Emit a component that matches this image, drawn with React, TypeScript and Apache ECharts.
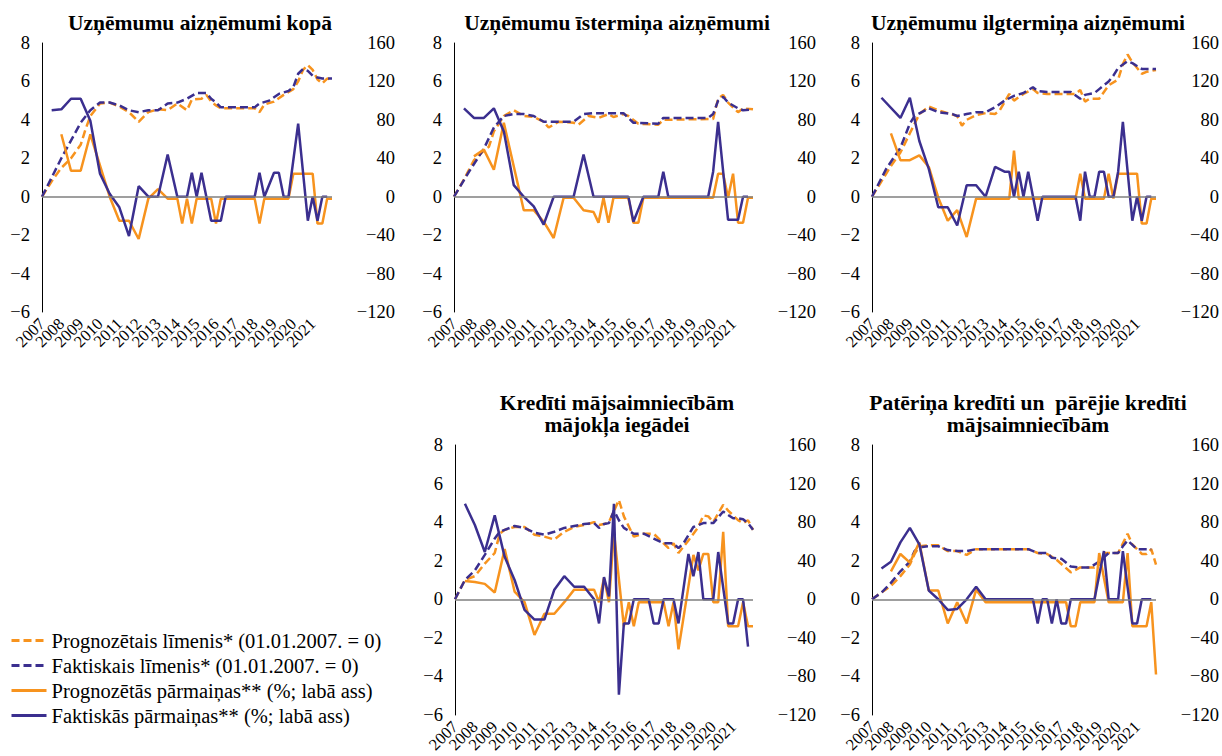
import React, { useEffect, useRef } from "react";
import * as echarts from "echarts";

// Year tick labels (one label per year, data is quarterly)
const yearLabels = ["2007", "2008", "2009", "2010", "2011", "2012", "2013", "2014", "2015", "2016", "2017", "2018", "2019", "2020", "2021"];
const lastQuarter = "2022 Q1";
const quarters: string[] = [];
yearLabels.forEach((y) => ["Q1", "Q2", "Q3", "Q4"].forEach((q) => quarters.push(y + " " + q)));
quarters.push(lastQuarter);

const seriesNames = [
  "Prognozētais līmenis* (01.01.2007. = 0)",
  "Faktiskais līmenis* (01.01.2007. = 0)",
  "Prognozētās pārmaiņas** (%; labā ass)",
  "Faktiskās pārmaiņas** (%; labā ass)",
];

const panelTitles = [
  "Uzņēmumu aizņēmumi kopā",
  "Uzņēmumu īstermiņa aizņēmumi",
  "Uzņēmumu ilgtermiņa aizņēmumi",
  "Kredīti mājsaimniecībām\nmājokļa iegādei",
  "Patēriņa kredīti un  pārējie kredīti\nmājsaimniecībām",
];

// [quarter index from 2007 Q1, value]
// Panel 1: Uzņēmumu aizņēmumi kopā
const p1LevelFc = [[0,0],[2,0.8],[4,1.5],[6,2.0],[8,2.7],[9,3.5],[10,4.2],[12,4.85],[14,4.9],[16,4.7],[18,4.4],[20,3.9],[22,4.4],[24,4.55],[26,4.5],[28,4.85],[30,4.5],[31,5.05],[33,5.1],[34,5.3],[35,4.95],[36,4.75],[37,4.6],[44,4.6],[45,4.4],[46,4.8],[48,4.95],[50,5.3],[52,5.6],[53,6.0],[54,6.6],[55,6.85],[56,6.6],[57,6.1],[58,5.9],[59,6.15],[60,6.1]];
const p1LevelAct = [[0,0],[4,2.0],[8,3.85],[10,4.5],[12,4.9],[14,4.9],[16,4.75],[18,4.5],[20,4.4],[22,4.5],[24,4.5],[26,4.85],[28,4.9],[30,5.1],[32,5.4],[34,5.4],[35,5.1],[36,4.9],[37,4.65],[44,4.65],[45,4.85],[47,5.0],[49,5.35],[51,5.5],[52,5.7],[53,6.4],[54,6.65],[55,6.55],[56,6.3],[57,6.2],[58,6.15],[60,6.15]];
const p1ChgFc = [[4,65],[6,27],[8,27],[10,65],[14,0],[16,-25],[18,-25],[20,-44],[22,-2],[24,8],[26,-2],[28,-2],[29,-28],[30,-2],[31,-28],[32,-2],[35,-2],[36,-28],[37,-2],[44,-2],[45,-28],[46,-2],[51,-2],[52,24],[56,24],[57,-28],[58,-28],[59,-2],[60,-2]];
const p1ChgAct = [[2,90],[4,91],[6,102],[8,102],[10,79],[12,24],[14,3],[16,-11],[18,-41],[20,11],[22,0],[24,0],[26,44],[28,0],[30,0],[31,25],[32,0],[33,25],[35,-25],[37,-25],[38,0],[44,0],[45,25],[46,0],[48,25],[49,25],[50,0],[51,0],[53,76],[55,-25],[56,0],[57,-25],[58,0],[59,0]];

// Panel 2: Uzņēmumu īstermiņa aizņēmumi
const p2LevelFc = [[0,0],[2,0.9],[4,1.9],[6,2.4],[7,2.6],[8,3.4],[10,4.2],[12,4.5],[14,4.2],[16,4.15],[18,3.9],[19,3.6],[21,3.9],[24,3.85],[25,3.75],[27,4.2],[29,4.1],[31,4.3],[32,4.15],[34,4.3],[35,4.2],[37,3.8],[41,3.75],[42,4.0],[52,4.05],[53,5.1],[54,5.3],[55,4.9],[57,4.4],[58,4.6],[60,4.55]];
const p2LevelAct = [[0,0],[3,1.3],[6,2.5],[8,3.6],[10,4.2],[12,4.3],[14,4.3],[16,4.2],[18,3.9],[24,3.9],[26,4.3],[28,4.35],[34,4.35],[36,3.85],[41,3.8],[42,4.1],[51,4.1],[52,4.3],[53,5.0],[54,5.2],[55,4.9],[57,4.6],[58,4.5],[60,4.55]];
const p2ChgFc = [[4,42],[6,49],[8,28],[10,77],[14,-14],[16,-14],[18,-26],[20,-43],[22,-1],[24,-1],[26,-14],[28,-16],[29,-27],[30,-1],[31,-27],[32,-1],[35,-1],[36,-27],[37,-27],[38,-1],[52,-1],[53,24],[54,24],[55,-1],[56,24],[57,-27],[58,-27],[59,-1],[60,-1]];
const p2ChgAct = [[2,92],[4,82],[6,82],[8,92],[10,68],[12,12],[14,0],[16,-10],[18,-29],[20,0],[24,0],[26,44],[28,0],[35,0],[36,-26],[38,0],[41,0],[42,26],[43,0],[51,0],[52,26],[53,78],[55,-24],[57,-24],[58,0],[59,0]];

// Panel 3: Uzņēmumu ilgtermiņa aizņēmumi
const p3LevelFc = [[0,0],[2,0.8],[4,1.6],[6,2.3],[8,3.3],[10,4.3],[12,4.7],[14,4.5],[16,4.35],[18,4.2],[19,3.7],[20,4.0],[22,4.25],[24,4.35],[26,4.3],[27,4.5],[29,5.35],[30,5.0],[32,5.35],[34,5.6],[35,5.4],[37,5.35],[43,5.35],[44,5.55],[45,4.95],[46,5.1],[48,5.1],[50,5.8],[52,6.1],[53,6.9],[54,7.4],[55,7.0],[57,6.4],[58,6.5],[60,6.6]];
const p3LevelAct = [[0,0],[3,1.45],[6,2.55],[8,3.8],[9,4.2],[12,4.6],[14,4.4],[17,4.3],[18,4.2],[20,4.3],[22,4.4],[24,4.4],[26,4.65],[28,5.0],[30,5.25],[32,5.4],[34,5.7],[35,5.5],[37,5.45],[42,5.45],[44,5.1],[45,5.3],[47,5.4],[48,5.6],[50,6.0],[51,6.3],[52,6.7],[54,7.05],[55,6.95],[57,6.65],[60,6.65]];
const p3ChgFc = [[4,66],[6,38],[8,38],[10,43],[12,31],[14,-1],[16,-25],[18,-14],[20,-42],[22,-2],[29,-2],[30,48],[31,-2],[43,-2],[44,24],[45,-2],[49,-2],[50,24],[51,-2],[52,24],[56,24],[57,-28],[58,-28],[59,-2],[60,-2]];
const p3ChgAct = [[2,103],[6,82],[8,103],[10,58],[12,29],[14,-11],[16,-11],[18,-30],[20,12],[22,12],[24,0],[26,31],[28,26],[29,26],[30,0],[31,26],[32,0],[33,26],[35,-25],[36,0],[43,0],[44,-25],[45,26],[46,0],[47,0],[48,26],[49,26],[50,0],[51,0],[52,26],[53,78],[55,-25],[56,0],[57,-25],[58,0],[59,0]];

// Panel 4: Kredīti mājsaimniecībām mājokļa iegādei
const p4LevelFc = [[0,0],[2,1.0],[4,1.2],[6,1.85],[8,2.4],[9,3.4],[10,3.6],[12,3.75],[14,3.75],[16,3.35],[18,3.25],[20,3.1],[22,3.5],[24,3.75],[26,3.85],[28,4.0],[29,3.85],[30,3.9],[31,4.0],[33,5.15],[34,4.3],[36,3.25],[38,3.4],[40,3.4],[42,2.9],[43,2.65],[44,2.9],[45,2.4],[47,3.05],[49,3.75],[50,4.35],[51,4.3],[52,4.0],[54,4.9],[55,4.6],[57,4.1],[58,3.95],[59,4.1],[60,3.6]];
const p4LevelAct = [[0,0],[2,1.0],[4,1.5],[6,2.3],[8,3.15],[9,3.5],[10,3.6],[12,3.8],[14,3.7],[16,3.45],[18,3.35],[20,3.5],[22,3.7],[24,3.8],[26,3.9],[28,3.95],[29,3.7],[30,3.9],[31,3.95],[32,4.6],[33,4.1],[34,3.7],[36,3.4],[38,3.4],[40,3.15],[42,2.9],[44,2.9],[45,2.65],[46,2.9],[48,3.75],[50,3.95],[52,3.95],[54,4.55],[56,4.2],[57,4.2],[58,4.15],[59,3.95],[60,3.6]];
const p4ChgFc = [[2,19],[4,18],[6,16],[8,7],[10,52],[12,8],[14,-3],[16,-37],[18,-15],[20,-15],[22,-3],[24,10],[26,10],[28,10],[29,-3],[30,22],[31,-3],[32,70],[34,-28],[35,-3],[36,-28],[37,-3],[42,-3],[43,-28],[44,-3],[45,-52],[48,46],[49,30],[50,47],[51,47],[52,-3],[53,-3],[54,70],[55,-28],[57,-28],[58,-3],[59,-28],[60,-28]];
const p4ChgAct = [[2,99],[4,77],[6,49],[8,87],[10,44],[12,20],[14,-11],[16,-21],[18,-21],[20,10],[22,24],[24,13],[26,13],[28,0],[29,-25],[30,23],[31,3],[32,99],[33,-99],[34,-25],[35,-25],[36,0],[39,0],[40,-25],[41,-25],[42,0],[44,0],[45,-25],[47,47],[48,24],[49,49],[50,0],[52,0],[53,49],[55,-25],[56,-25],[57,0],[58,0],[59,-49]];

// Panel 5: Patēriņa kredīti un pārējie kredīti mājsaimniecībām
const p5LevelFc = [[0,0],[2,0.35],[4,0.7],[6,1.2],[8,1.8],[9,2.35],[10,2.75],[12,2.8],[14,2.8],[16,2.5],[18,2.5],[20,2.3],[22,2.6],[33,2.6],[35,2.4],[37,2.35],[39,2.05],[42,1.4],[44,1.65],[47,1.65],[48,1.8],[49,2.4],[52,2.4],[54,3.4],[55,2.85],[57,2.35],[58,2.35],[59,2.6],[60,1.8]];
const p5LevelAct = [[0,0],[2,0.35],[4,0.85],[6,1.45],[8,1.95],[9,2.5],[10,2.7],[12,2.75],[14,2.75],[16,2.55],[18,2.5],[20,2.5],[22,2.6],[33,2.6],[35,2.4],[37,2.4],[38,2.15],[40,2.1],[42,1.7],[44,1.65],[46,1.65],[48,1.95],[50,2.4],[52,2.4],[53,2.75],[54,3.05],[56,2.6],[59,2.6]];
const p5ChgFc = [[4,29],[6,47],[8,38],[10,59],[12,9],[14,9],[16,-25],[18,-3],[20,-25],[22,10],[24,-3],[41,-3],[42,-28],[43,-28],[44,-3],[47,-3],[48,48],[49,22],[50,-3],[53,-3],[54,48],[55,-28],[58,-28],[59,-3],[60,-78]];
const p5ChgAct = [[2,32],[4,39],[6,59],[8,74],[10,57],[12,9],[14,0],[16,-11],[18,-10],[20,0],[22,13],[24,0],[34,0],[35,-25],[36,0],[37,0],[38,-25],[39,0],[40,-25],[41,-25],[42,0],[47,0],[49,50],[50,0],[52,0],[53,50],[55,-25],[56,-25],[57,0],[59,0]];

const panelData = [
  [p1LevelFc, p1LevelAct, p1ChgFc, p1ChgAct],
  [p2LevelFc, p2LevelAct, p2ChgFc, p2ChgAct],
  [p3LevelFc, p3LevelAct, p3ChgFc, p3ChgAct],
  [p4LevelFc, p4LevelAct, p4ChgFc, p4ChgAct],
  [p5LevelFc, p5LevelAct, p5ChgFc, p5ChgAct],
];

const ORANGE = "#F7931E";
const BLUE = "#3B2F8F";
const FONT = "Liberation Serif";

const layouts = [
  { left: 42, top: 43, width: 290, height: 269, cx: 195, ty: 7 },
  { left: 454, top: 43, width: 299, height: 269, cx: 612, ty: 7 },
  { left: 872, top: 43, width: 291, height: 269, cx: 1023, ty: 7 },
  { left: 455, top: 445, width: 298, height: 270, cx: 612, ty: 387 },
  { left: 872, top: 445, width: 291, height: 270, cx: 1023, ty: 387 },
];

const fmt = (v: number) => (v < 0 ? "\u2212" + Math.abs(v) : String(v));

export default function App() {
  const ref = useRef<HTMLDivElement>(null);
  useEffect(() => {
    if (!ref.current) return;
    const chart = echarts.init(ref.current, undefined, { renderer: "svg" });
    const grid: any[] = [];
    const xAxis: any[] = [];
    const yAxis: any[] = [];
    const series: any[] = [];
    const title: any[] = [];
    layouts.forEach((l, i) => {
      grid.push({ left: l.left, top: l.top, width: l.width, height: l.height });
      title.push({
        text: panelTitles[i],
        left: l.cx,
        top: l.ty,
        textAlign: "center",
        textStyle: { fontFamily: FONT, fontSize: 21.5, fontWeight: "bold", color: "#000", lineHeight: 22 },
      });
      xAxis.push({
        type: "category",
        gridIndex: i,
        data: quarters,
        boundaryGap: false,
        axisLine: { show: false },
        axisTick: { show: false },
        splitLine: { show: false },
        axisLabel: {
          rotate: 45,
          margin: 9,
          fontSize: 16.5,
          fontFamily: FONT,
          color: "#000",
          interval: 0,
          hideOverlap: false,
          formatter: (v: string, idx: number) => (idx % 4 === 0 && idx < quarters.length - 1 ? v.slice(0, 4) : ""),
        },
      });
      yAxis.push({
        type: "value",
        gridIndex: i,
        position: "left",
        min: -6,
        max: 8,
        interval: 2,
        axisLine: { show: true, lineStyle: { color: "#000", width: 1 } },
        axisTick: { show: false },
        splitLine: { show: false },
        axisLabel: { fontSize: 18.5, fontFamily: FONT, color: "#000", margin: 12, formatter: fmt },
      });
      yAxis.push({
        type: "value",
        gridIndex: i,
        position: "right",
        min: -120,
        max: 160,
        interval: 40,
        axisLine: { show: false },
        axisTick: { show: false },
        splitLine: { show: false },
        axisLabel: { fontSize: 18.5, fontFamily: FONT, color: "#000", margin: 63, align: "right", formatter: fmt },
      });
      const d = panelData[i];
      const common = { type: "line", xAxisIndex: i, symbol: "none", showSymbol: false, silent: true };
      series.push({
        ...common,
        name: seriesNames[0],
        yAxisIndex: 2 * i,
        data: d[0],
        lineStyle: { color: ORANGE, width: 2.5, type: [8, 4] },
        itemStyle: { color: ORANGE },
        markLine: {
          silent: true,
          symbol: ["none", "none"],
          label: { show: false },
          lineStyle: { color: "#7f7f7f", width: 1.5, type: "solid" },
          data: [{ yAxis: 0 }],
        },
      });
      series.push({
        ...common,
        name: seriesNames[1],
        yAxisIndex: 2 * i,
        data: d[1],
        lineStyle: { color: BLUE, width: 2.5, type: [8, 4] },
        itemStyle: { color: BLUE },
      });
      series.push({
        ...common,
        name: seriesNames[2],
        yAxisIndex: 2 * i + 1,
        data: d[2],
        lineStyle: { color: ORANGE, width: 2.5 },
        itemStyle: { color: ORANGE },
      });
      series.push({
        ...common,
        name: seriesNames[3],
        yAxisIndex: 2 * i + 1,
        data: d[3],
        lineStyle: { color: BLUE, width: 2.5 },
        itemStyle: { color: BLUE },
      });
    });
    chart.setOption({
      animation: false,
      backgroundColor: "#fff",
      title,
      grid,
      xAxis,
      yAxis,
      series,
      legend: {
        data: seriesNames,
        orient: "vertical",
        left: 5,
        top: 625,
        itemWidth: 35,
        itemHeight: 12,
        itemGap: 4,
        selectedMode: false,
        itemStyle: { opacity: 0 },
        lineStyle: { width: 3 },
        textStyle: { fontFamily: FONT, fontSize: 20.5, color: "#000", lineHeight: 20 },
      },
    });
    return () => chart.dispose();
  }, []);
  return <div ref={ref} style={{ position: "fixed", left: 0, top: 0, width: 1222, height: 756 }} />;
}
